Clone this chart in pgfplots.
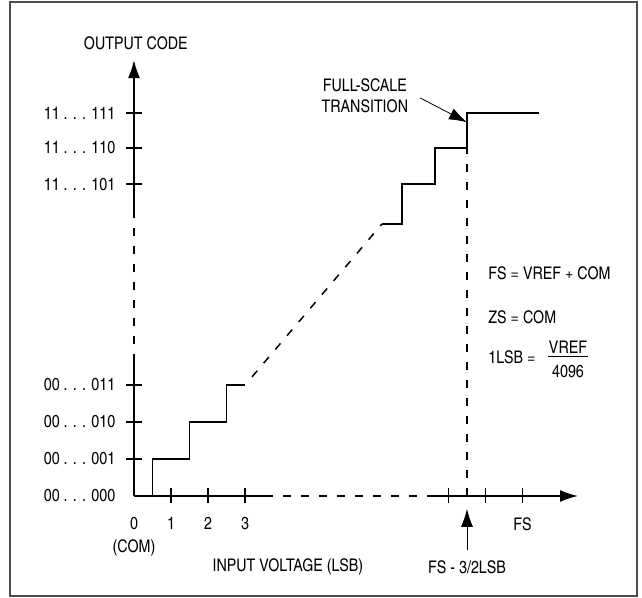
\documentclass[border=0pt]{standalone}
\usepackage{pgfplots}
\pgfplotsset{compat=1.18}
\usepackage{fontspec}
\setmainfont{TeX Gyre Heros Cn}
\usetikzlibrary{arrows.meta}

\begin{document}
\fontsize{8.7}{10.5}\selectfont
\begin{tikzpicture}[line width=0.75pt]
\useasboundingbox (-67pt,-51pt) rectangle (254pt,248pt);
\draw[black!70, line width=0.6pt] (-62pt,-50pt) rectangle (251.5pt,247pt);
\begin{axis}[
  anchor=origin, at={(0,0)},
  x=18.5pt, y=18.5pt,
  xmin=0, xmax=12.2, ymin=0, ymax=12,
  axis x line=bottom, axis y line=left,
  axis line style={draw=none},
  clip=false,
  tick align=center,
  major tick length=7.5pt,
  every tick/.style={black, line width=0.75pt},
  xticklabel style={yshift=-4pt},
  yticklabel style={xshift=-2.5pt},
  xtick={1,2,3,8.5,9.5,10.5},
  xticklabels={1,2,3,,,FS},
  ytick={1,2,3,8.43,9.41,10.35},
  yticklabels={00 . . . 001,00 . . . 010,00 . . . 011,11 . . . 101,11 . . . 110,11 . . . 111},
  extra x ticks={0}, extra x tick labels={0},
  extra x tick style={tick style={draw=none}},
  extra y ticks={0}, extra y tick labels={00 . . . 000},
  extra y tick style={tick style={draw=none}},
  ln/.style={black, line width=0.75pt, no marks},
  dsh/.style={ln, dash pattern=on 4pt off 5pt},
  arr/.style={ln, -{Latex[length=9pt,width=6pt]}},
]
% axes, drawn in pieces (solid / dashed / solid)
\addplot[ln] coordinates {(0,0) (0,3.62)};
\addplot[dsh] coordinates {(0,3.62) (0,7.65)};
\addplot[arr] coordinates {(0,7.65) (0,11.78)};
\addplot[ln] coordinates {(0,0) (3.54,0)};
\addplot[dsh] coordinates {(3.54,0) (8.08,0)};
\addplot[arr] coordinates {(8.08,0) (12,0)};

% transfer function, low end
\addplot[ln] coordinates {(0.5,0) (0.5,1) (1.5,1) (1.5,2) (2.5,2) (2.5,3) (3,3)};
% gap
\addplot[dsh] coordinates {(3.19,3.22) (6.7,7.35)};
% high end
\addplot[ln] coordinates {(6.7,7.35) (7.24,7.35) (7.24,8.43) (8.14,8.43) (8.14,9.41) (9,9.41) (9,10.35) (10.95,10.35)};
% full-scale transition marker
\addplot[dsh] coordinates {(9,0) (9,9.41)};

\node at (axis cs:0.05,12.24) {OUTPUT CODE};
\node at (axis cs:0,-1.41) {(COM)};
\node at (axis cs:4.16,-1.92) {INPUT VOLTAGE (LSB)};
\node at (axis cs:9,-1.92) {FS - 3/2LSB};
\draw[-{Latex[length=9pt,width=6pt]}] (axis cs:9,-1.46) -- (axis cs:9,-0.35);
\node[align=center, inner sep=0pt] at (axis cs:6.24,10.82) {FULL-SCALE\\TRANSITION};
\draw[-{Latex[length=9pt,width=6pt]}] (axis cs:7.73,10.76) -- (axis cs:9,10.1);
\node[anchor=west, inner sep=0pt] at (axis cs:9.57,6.03) {FS = VREF + COM};
\node[anchor=west, inner sep=0pt] at (axis cs:9.57,4.84) {ZS = COM};
\node[anchor=west, inner sep=0pt] at (axis cs:9.57,3.76) {1LSB =};
\node at (axis cs:11.73,4.03) {VREF};
\node at (axis cs:11.73,3.35) {4096};
\draw[line width=0.6pt] (axis cs:11.2,3.76) -- (axis cs:12.27,3.76);
\end{axis}
\end{tikzpicture}
\end{document}
